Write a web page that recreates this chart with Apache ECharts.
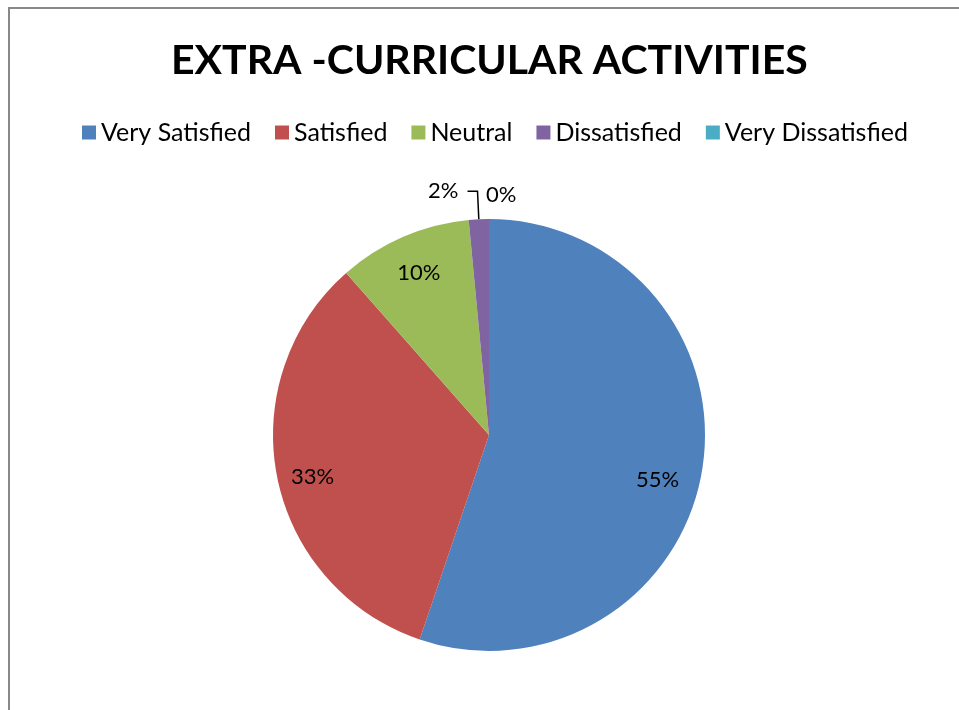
<!DOCTYPE html>
<html><head><meta charset="utf-8">
<script src="https://cdn.jsdelivr.net/npm/echarts@6/dist/echarts.min.js"></script>
<style>html,body{margin:0;padding:0;background:#fff}#c{width:959px;height:710px}</style>
</head><body><div id="c"></div>
<script>
const categories = ['Very Satisfied','Satisfied','Neutral','Dissatisfied','Very Dissatisfied'];
const values = [55.2, 33.3, 10.0, 1.5, 0];
const colors = ['#4F81BD','#C0504D','#9BBB59','#8064A2','#4BACC6'];
const titleText = 'EXTRA -CURRICULAR ACTIVITIES';
const FONT = 'Lato';

const chart = echarts.init(document.getElementById('c'));
const fmt = v => Math.round(v) + '%';
const pct = p => fmt(p.value);
const insideOffsets = [[-6, 16], [-3, 7], [0, 0]];

chart.setOption({
  animation: false,
  color: colors,
  title: { text: titleText, left: 166, top: 35,
    textStyle: { fontFamily: FONT, fontSize: 41, fontWeight: 'bold', color: '#000' } },
  legend: { data: categories, top: 115, left: 77, icon: 'rect', itemWidth: 14, itemHeight: 14, itemGap: 24,
    textStyle: { fontFamily: FONT, fontSize: 25, color: '#000' } },
  graphic: [
    { type: 'line', shape: { x1: 8, y1: 8, x2: 959, y2: 8 }, style: { stroke: '#888', lineWidth: 2 } },
    { type: 'line', shape: { x1: 9, y1: 7, x2: 9, y2: 710 }, style: { stroke: '#888', lineWidth: 2 } },
    // label for the zero-value slice (ECharts hides labels of empty sectors)
    { type: 'text', left: 486, top: 184, style: { text: fmt(values[4]), fontFamily: FONT, fontSize: 22, fill: '#000' } }
  ],
  series: [
    { type: 'pie', center: [489, 435], radius: [0, 216], startAngle: 90, clockwise: true,
      stillShowZeroSum: true, avoidLabelOverlap: false,
      data: categories.map((n, i) => ({
        name: n, value: values[i],
        label: i === 3 ? { show: true, position: 'outside', formatter: pct, fontFamily: FONT, fontSize: 22, color: '#000', distanceToLabelLine: 9 } : { show: false },
        labelLine: i === 3 ? { show: true, length: 28, length2: 10, lineStyle: { color: '#000', width: 1.5 } } : { show: false }
      })),
      itemStyle: { borderWidth: 0 },
      emphasis: { disabled: true }
    },
    { type: 'pie', center: [489, 435], radius: [132, 216], startAngle: 90, clockwise: true, silent: true,
      legendHoverLink: false, avoidLabelOverlap: false,
      data: categories.map((n, i) => ({
        name: n, value: values[i],
        itemStyle: { color: 'rgba(0,0,0,0)' },
        label: i < 3 ? { show: true, position: 'inside', formatter: pct, fontFamily: FONT, fontSize: 22, color: '#000', offset: insideOffsets[i] } : { show: false },
        labelLine: { show: false }
      })),
      emphasis: { disabled: true }
    }
  ]
});
</script></body></html>
